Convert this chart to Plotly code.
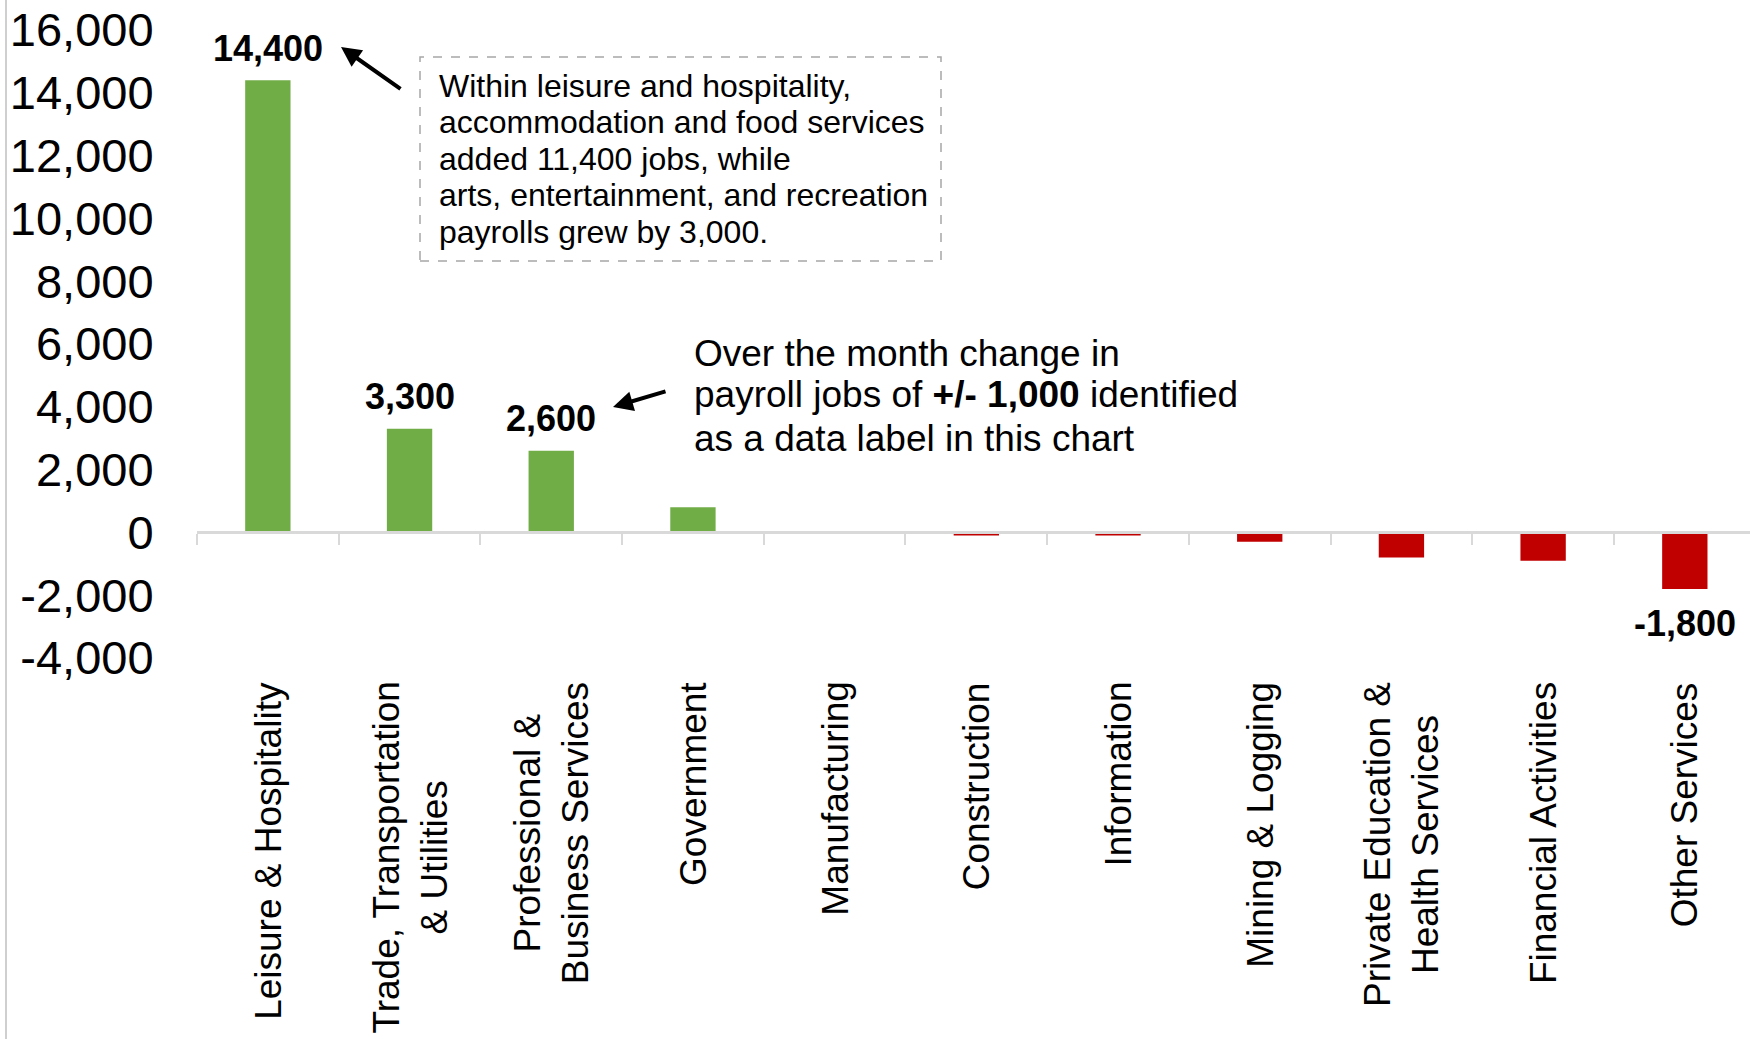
import plotly.graph_objects as go

categories = [
    "Leisure & Hospitality",
    "Trade, Transportation<br>& Utilities",
    "Professional &<br>Business Services",
    "Government",
    "Manufacturing",
    "Construction",
    "Information",
    "Mining & Logging",
    "Private Education &<br>Health Services",
    "Financial Activities",
    "Other Services",
]
values = [14400, 3300, 2600, 800, 0, -100, -100, -300, -800, -900, -1800]
y_tick_values = [-4000, -2000, 0, 2000, 4000, 6000, 8000, 10000, 12000, 14000, 16000]
label_threshold = 1000

box_lines = [
    "Within leisure and hospitality,",
    "accommodation and food services",
    "added 11,400 jobs, while",
    "arts, entertainment, and recreation",
    "payrolls grew by 3,000.",
]
note_lines = [
    "Over the month change in",
    "payroll jobs of <b>+/- 1,000</b> identified",
    "as a data label in this chart",
]

GREEN = "#70AD47"
RED = "#C00000"
FONT = "Liberation Sans, Arial, sans-serif"

W, H = 1750, 1039
L, R, T, B = 197, 0, 30, 381
PW, PH = W - L - R, H - T - B


def px_x(x):
    return (x - L) / PW


def px_y(y):
    return (H - B - y) / PH


colors = [GREEN if v > 0 else RED for v in values]

fig = go.Figure()
fig.add_trace(go.Bar(x=categories, y=values, marker=dict(color=colors, line=dict(width=0)),
                     hoverinfo="skip", showlegend=False))
fig.add_trace(go.Scatter(x=categories, y=values, xaxis="x2", mode="markers",
                         marker=dict(opacity=0), hoverinfo="skip", showlegend=False))

annotations = []
for c, v in zip(categories, values):
    if abs(v) >= label_threshold:
        annotations.append(dict(
            x=c, y=v, xref="x", yref="y", text=f"<b>{v:,}</b>", showarrow=False,
            yanchor="middle", yshift=32 if v > 0 else -35,
            font=dict(family=FONT, size=36, color="black")))

# category labels (rotated, centred multi-line)
for c in categories:
    annotations.append(dict(
        x=c, y=0, xref="x", yref="paper", text=c, showarrow=False, textangle=-90,
        xanchor="center", yanchor="top", align="center", yshift=-22,
        font=dict(family=FONT, size=37, color="black")))

# box text lines
box_y = [86, 122, 158.5, 195, 232]
for t, yy in zip(box_lines, box_y):
    annotations.append(dict(x=px_x(437), y=px_y(yy), xref="paper", yref="paper", text=t,
                            showarrow=False, xanchor="left", yanchor="middle",
                            font=dict(family=FONT, size=32, color="black")))
note_y = [353, 395, 438]
for t, yy in zip(note_lines, note_y):
    annotations.append(dict(x=px_x(692), y=px_y(yy), xref="paper", yref="paper", text=t,
                            showarrow=False, xanchor="left", yanchor="middle",
                            font=dict(family=FONT, size=37, color="black")))

# arrows
annotations.append(dict(x=px_x(341), y=px_y(47), xref="paper", yref="paper", text="",
                        showarrow=True, ax=61, ay=43, arrowhead=2, arrowsize=1,
                        arrowwidth=4, arrowcolor="black"))
annotations.append(dict(x=px_x(613), y=px_y(407), xref="paper", yref="paper", text="",
                        showarrow=True, ax=54, ay=-16, arrowhead=2, arrowsize=1,
                        arrowwidth=4, arrowcolor="black"))

shapes = [
    dict(type="rect", xref="paper", yref="paper", x0=px_x(420), x1=px_x(941),
         y0=px_y(261), y1=px_y(57), line=dict(color="#A6A6A6", width=1.5, dash="dash")),
    dict(type="line", xref="paper", yref="paper", x0=px_x(6), x1=px_x(6),
         y0=px_y(H), y1=px_y(0), line=dict(color="#BFBFBF", width=1.5)),
]

xr = [-0.5, len(categories) - 0.54]
yr = [-4000, 16000]

fig.update_layout(
    width=W, height=H,
    margin=dict(l=L, r=R, t=T, b=B),
    paper_bgcolor="white", plot_bgcolor="white",
    bargap=0.68,
    showlegend=False,
    xaxis=dict(type="category", range=xr, showgrid=False, zeroline=False, showline=False,
               ticks="", showticklabels=False),
    xaxis2=dict(type="category", overlaying="x", anchor="free", position=(0 - yr[0]) / (yr[1] - yr[0]),
                range=xr, showgrid=False, zeroline=False, showline=True, linecolor="#D9D9D9",
                linewidth=2.5, ticks="outside", tickson="boundaries", ticklen=11,
                tickcolor="#D9D9D9", tickwidth=2, showticklabels=False),
    yaxis=dict(range=yr, tickvals=y_tick_values, ticktext=[f"{v:,}" for v in y_tick_values],
               showgrid=False, zeroline=False, showline=False, ticks="outside", ticklen=33,
               tickcolor="rgba(0,0,0,0)", tickfont=dict(family=FONT, size=47, color="black")),
    annotations=annotations,
    shapes=shapes,
)

fig.write_html("out.html", config={"displayModeBar": False},
               post_script="document.body.style.margin='0px';document.body.style.overflow='hidden';")
